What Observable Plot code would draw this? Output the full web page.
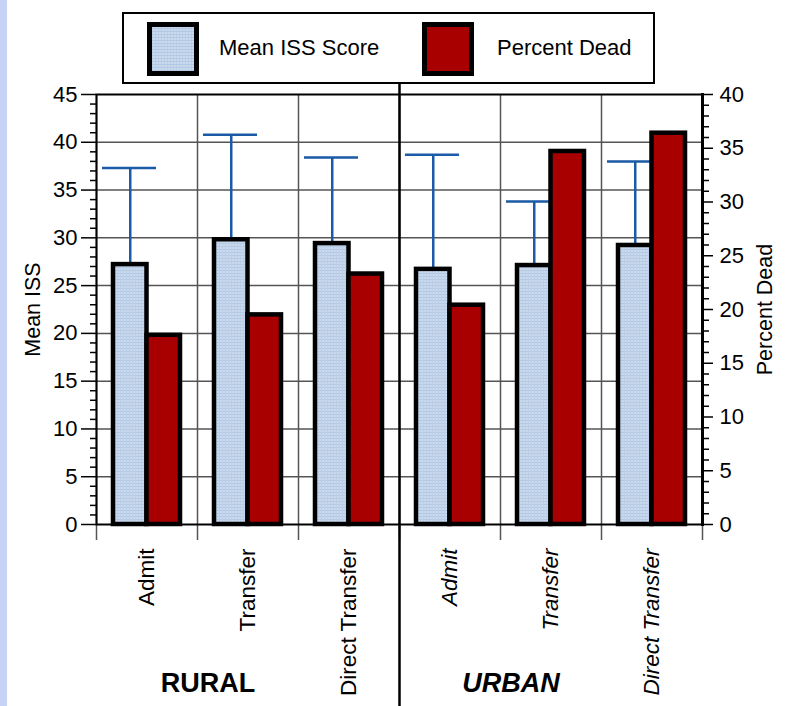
<!DOCTYPE html>
<html>
<head>
<meta charset="utf-8">
<script src="https://cdn.jsdelivr.net/npm/d3@7"></script>
<script src="https://cdn.jsdelivr.net/npm/@observablehq/plot@0.6"></script>
<style>
  html, body { margin: 0; padding: 0; background: #fff; }
  body { width: 786px; height: 706px; position: relative; overflow: hidden; font-family: "Liberation Sans", Arial, sans-serif; }
  #strip { position: absolute; left: 0; top: 0; width: 7px; height: 706px; background: #c7d2f7; }
  #chart { position: absolute; left: 0; top: 0; }
  #legend { position: absolute; left: 122px; top: 12px; width: 529px; height: 68px; border: 2px solid #000; background: #fff; }
  .sw { position: absolute; top: 8px; width: 42px; height: 44px; border: 5px solid #000; }
  .lt { position: absolute; top: 0; height: 68px; line-height: 68px; font-size: 22px; color: #000; }
</style>
</head>
<body>
<svg width="0" height="0" style="position:absolute">
  <defs>
    <pattern id="issfill" width="3" height="3" patternUnits="userSpaceOnUse">
      <rect width="3" height="3" fill="#c9daee"></rect>
      <rect width="3" height="1" fill="#b3c8e2"></rect>
      <rect width="1" height="3" fill="#bccfe7"></rect>
    </pattern>
  </defs>
</svg>
<div id="strip"></div>
<div id="chart"></div>
<div id="legend">
  <div class="sw" style="left:23px;background-color:#c9daee;background-image:repeating-linear-gradient(0deg,#b3c8e2 0 1px,transparent 1px 3px),repeating-linear-gradient(90deg,#bccfe7 0 1px,transparent 1px 3px);"></div>
  <div class="lt" style="left:95px;">Mean ISS Score</div>
  <div class="sw" style="left:298px;background:#a80000;"></div>
  <div class="lt" style="left:373px;">Percent Dead</div>
</div>
<script>
// ---- data ----
const settings = ["Rural", "Rural", "Rural", "Urban", "Urban", "Urban"];
const categories = ["Admit", "Transfer", "Direct Transfer", "Admit", "Transfer", "Direct Transfer"];
const meanISS = [27.2, 29.8, 29.4, 26.7, 27.1, 29.2];
const issUpper = [37.3, 40.8, 38.4, 38.7, 33.8, 38.0];
const percentDead = [17.6, 19.5, 23.3, 20.4, 34.7, 36.4];
const leftTicks = [0, 5, 10, 15, 20, 25, 30, 35, 40, 45];
const rightTicks = [0, 5, 10, 15, 20, 25, 30, 35, 40];
const groupLabels = ["RURAL", "URBAN"];

// ---- build table ----
const ISS_MAX = 45, DEAD_MAX = 40, k = ISS_MAX / DEAD_MAX;
const data = categories.map((c, i) => ({
  key: settings[i] + " " + c,
  setting: settings[i],
  category: c,
  iss: meanISS[i],
  hi: issUpper[i],
  dead: percentDead[i]
}));
const keys = data.map(d => d.key);
const leftMinor = d3.range(0, ISS_MAX + 1).filter(v => v % 5 !== 0);
const rightMinor = d3.range(0, DEAD_MAX + 1).filter(v => v % 5 !== 0);
const dividerKey = data.find(d => d.setting === "Urban").key;
const groupAnchor = ["Rural Transfer", "Urban Transfer"];

const chart = Plot.plot({
  width: 786,
  height: 706,
  marginTop: 94,
  marginBottom: 182,
  marginLeft: 96,
  marginRight: 84,
  style: { fontFamily: "Liberation Sans, Arial, sans-serif", fontSize: "22px", color: "#000", background: "transparent", overflow: "visible" },
  x: { type: "band", domain: keys, padding: 0, axis: null },
  y: { domain: [0, ISS_MAX], axis: null, label: null },
  marks: [
    // horizontal gridlines
    Plot.ruleY(leftTicks.slice(1, -1), { stroke: "#555", strokeWidth: 1.5 }),
    // vertical band boundaries (with ticks below the axis)
    Plot.ruleX(keys.slice(1), { x: d => d, dx: -50.5, insetBottom: -16, stroke: "#555", strokeWidth: 1.5 }),
    Plot.ruleX(keys.slice(0, 1), { x: d => d, dx: -50.5, insetBottom: -16, stroke: "#555", strokeWidth: 1.5 }),
    Plot.ruleX(keys.slice(-1), { x: d => d, dx: 50.5, insetBottom: -16, stroke: "#555", strokeWidth: 1.5 }),
    // frame
    Plot.frame({ stroke: "#000", strokeWidth: 2 }),
    Plot.frame({ anchor: "right", stroke: "#000", strokeWidth: 3 }),
    // urban / rural divider
    Plot.ruleX([dividerKey], { x: d => d, dx: -50.5, insetTop: -82, insetBottom: -182, stroke: "#000", strokeWidth: 2.5 }),
    // error bars
    Plot.ruleX(data, { x: "key", y1: "iss", y2: "hi", dx: -16.75, stroke: "#1a5aa6", strokeWidth: 2.5 }),
    Plot.tickY(data, { x: "key", y: "hi", insetLeft: 6, insetRight: 41, stroke: "#1a5aa6", strokeWidth: 2.5 }),
    // bars
    Plot.barY(data, { x: "key", y: "iss", fill: "url(#issfill)", stroke: "#000", strokeWidth: 4.5, strokeLinejoin: "miter", insetLeft: 17, insetRight: 50.5 }),
    Plot.barY(data, { x: "key", y: d => d.dead * k, fill: "#a80000", stroke: "#000", strokeWidth: 4.5, strokeLinejoin: "miter", insetLeft: 50.5, insetRight: 17 }),
    // left axis
    Plot.axisY(leftTicks, { anchor: "left", tickSize: 15, tickPadding: 4, stroke: "#000", strokeWidth: 1.5, fontSize: 22, label: null }),
    Plot.axisY(leftMinor, { anchor: "left", tickSize: 6, stroke: "#000", strokeWidth: 1.5, tickFormat: () => "", label: null }),
    // right axis (Percent Dead)
    Plot.axisY(rightTicks.map(v => v * k), { anchor: "right", tickSize: 10, tickPadding: 7, stroke: "#000", strokeWidth: 1.5, fontSize: 22, tickFormat: d => d3.format("d")(Math.round(d / k)), label: null }),
    Plot.axisY(rightMinor.map(v => v * k), { anchor: "right", tickSize: 6, stroke: "#000", strokeWidth: 1.5, tickFormat: () => "", label: null }),
    // axis titles
    Plot.text(["Mean ISS"], { frameAnchor: "left", dx: -63, rotate: -90, textAnchor: "middle", lineAnchor: "middle", fontSize: 21.5, text: d => d }),
    Plot.text(["Percent Dead"], { frameAnchor: "right", dx: 63, rotate: -90, textAnchor: "middle", lineAnchor: "middle", fontSize: 21.5, text: d => d }),
    // category labels
    Plot.text(data.filter(d => d.setting === "Rural"), { x: "key", text: "category", frameAnchor: "bottom", dy: 24, rotate: -90, textAnchor: "end", lineAnchor: "middle", fontSize: 22.5 }),
    Plot.text(data.filter(d => d.setting === "Urban"), { x: "key", text: "category", frameAnchor: "bottom", dy: 24, rotate: -90, textAnchor: "end", lineAnchor: "middle", fontSize: 22.5, fontStyle: "italic" }),
    // group labels
    Plot.text([groupLabels[0]], { x: () => groupAnchor[0], text: d => d, frameAnchor: "bottom", lineAnchor: "middle", dy: 159, dx: -40, fontSize: 27, fontWeight: "bold" }),
    Plot.text([groupLabels[1]], { x: () => groupAnchor[1], text: d => d, frameAnchor: "bottom", lineAnchor: "middle", dy: 159, dx: -40, fontSize: 27, fontWeight: "bold", fontStyle: "italic" })
  ]
});
document.getElementById("chart").appendChild(chart);
</script>
</body>
</html>
